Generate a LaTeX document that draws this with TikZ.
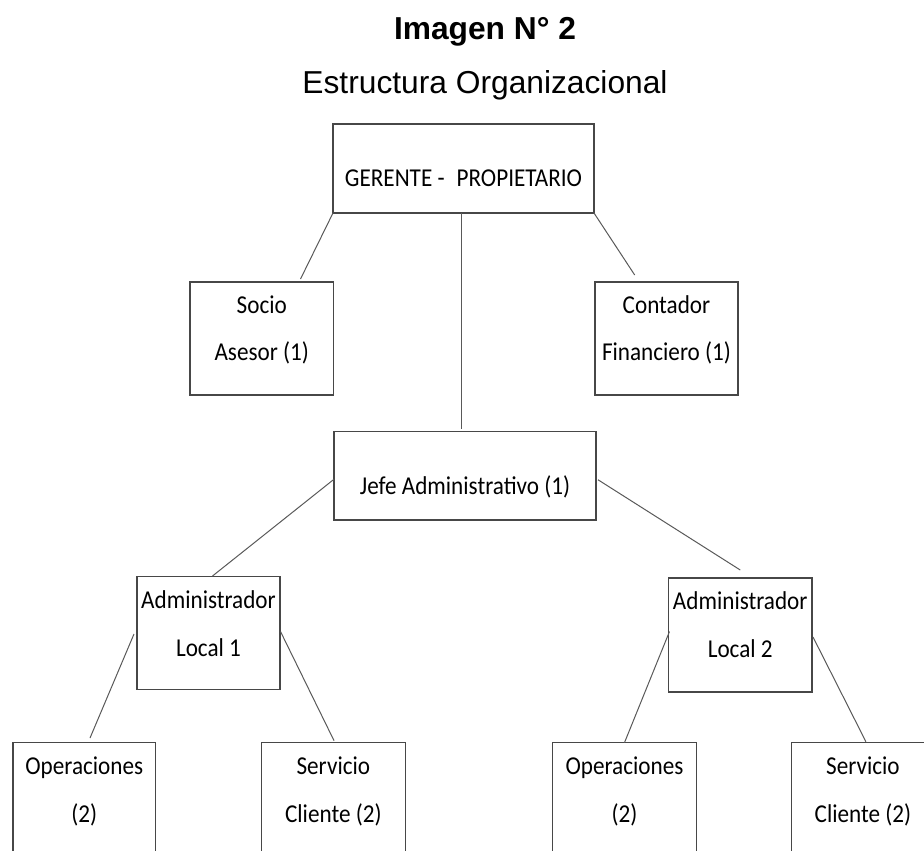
\documentclass[tikz,border=0pt]{standalone}
\usepackage{fontspec}
\usetikzlibrary{calc}
\newfontfamily\boxfont[FakeStretch=0.9]{Carlito}
\newfontfamily\headfont{Liberation Sans}
\begin{document}
\begin{tikzpicture}[x=0.75pt,y=-0.75pt,
  orgbox/.style={draw=black!72,line width=0.9pt,inner sep=0pt,outer sep=0pt,anchor=north west},
  wh/.style 2 args={minimum width=#1*0.75pt,minimum height=#2*0.75pt},
  boxtext/.style={anchor=base,inner sep=0pt,font=\boxfont\fontsize{19.3pt}{23pt}\selectfont},
  headtext/.style={anchor=base,inner sep=0pt},
  link/.style={draw=black!65,line width=0.75pt}]
\useasboundingbox (0,0) rectangle (924,850);
\clip (0,0) rectangle (924,850);

% titles
\node[headtext,font=\headfont\bfseries\fontsize{23.8pt}{28pt}\selectfont] (title) at (485,39) {Imagen N° 2};
\node[headtext,font=\headfont\fontsize{23.8pt}{28pt}\selectfont] (subtitle) at (485,93) {Estructura Organizacional};

% boxes
\node[orgbox,wh={261}{89}] (gerente) at (333,124) {};
\node[orgbox,wh={143.5}{113}] (socio) at (190,282) {};
\node[orgbox,wh={143}{113}] (contador) at (595,282) {};
\node[orgbox,wh={262}{88.5}] (jefe) at (334,431.5) {};
\node[orgbox,wh={143}{113}] (local1) at (137,576.5) {};
\node[orgbox,wh={143.5}{114}] (local2) at (668.5,578) {};
\node[orgbox,wh={142.6}{150}] (op1) at (13,742.7) {};
\node[orgbox,wh={143.5}{150}] (serv1) at (261.6,742.7) {};
\node[orgbox,wh={143.5}{150}] (op2) at (552.7,742.7) {};
\node[orgbox,wh={143}{150}] (serv2) at (791.4,742.7) {};

% texts
\node[boxtext] (gerente-t) at ($(gerente.north)+(0,62)$) {GERENTE -\hspace{9pt}PROPIETARIO};
\node[boxtext] (socio-t1) at ($(socio.north)+(0,31)$) {Socio};
\node[boxtext] (socio-t2) at ($(socio.north)+(0,78)$) {Asesor (1)};
\node[boxtext] (contador-t1) at ($(contador.north)+(0,31)$) {Contador};
\node[boxtext] (contador-t2) at ($(contador.north)+(0,78)$) {Financiero (1)};
\node[boxtext] (jefe-t) at ($(jefe.north)+(0,62.5)$) {Jefe Administrativo (1)};
\node[boxtext] (local1-t1) at ($(local1.north)+(0,31.5)$) {Administrador};
\node[boxtext] (local1-t2) at ($(local1.north)+(0,79.5)$) {Local 1};
\node[boxtext] (local2-t1) at ($(local2.north)+(0,31.5)$) {Administrador};
\node[boxtext] (local2-t2) at ($(local2.north)+(0,79.5)$) {Local 2};
\node[boxtext] (op1-t1) at ($(op1.north)+(0,32)$) {Operaciones};
\node[boxtext] (op1-t2) at ($(op1.north)+(0,80)$) {(2)};
\node[boxtext] (serv1-t1) at ($(serv1.north)+(0,32)$) {Servicio};
\node[boxtext] (serv1-t2) at ($(serv1.north)+(0,80)$) {Cliente (2)};
\node[boxtext] (op2-t1) at ($(op2.north)+(0,32)$) {Operaciones};
\node[boxtext] (op2-t2) at ($(op2.north)+(0,80)$) {(2)};
\node[boxtext] (serv2-t1) at ($(serv2.north)+(0,32)$) {Servicio};
\node[boxtext] (serv2-t2) at ($(serv2.north)+(0,80)$) {Cliente (2)};

% connectors
\draw[link] (gerente.south west) -- ($(socio.north)+(38.75,-3)$);
\draw[link] (gerente.south east) -- ($(contador.north)+(-31.8,-7)$);
\draw[link] ($(gerente.south)+(-2,0)$) -- ($(gerente.south |- jefe.north)+(-2,-3)$);
\draw[link] ($(jefe.west)+(0,3.5)$) -- ($(local1.north)+(4,-0.5)$);
\draw[link] ($(jefe.east)+(2,4)$) -- ($(local2.north)+(0,-8)$);
\draw[link] ($(local1.west)+(-3,1)$) -- ($(op1.north)+(5.7,-4.7)$);
\draw[link] ($(local1.east)+(0.5,-1.5)$) -- ($(serv1.north)+(0.7,-2)$);
\draw[link] ($(local2.west)+(1,-3.5)$) -- (op2.north);
\draw[link] ($(local2.east)+(1,2)$) -- ($(serv2.north)+(3,-1)$);
\end{tikzpicture}
\end{document}
